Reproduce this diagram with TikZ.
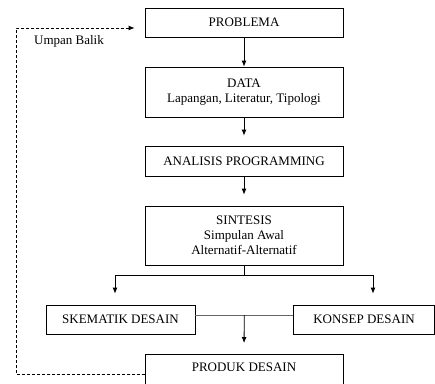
\documentclass[tikz,border=0pt]{standalone}
\usepackage{fontspec}
\setmainfont{Liberation Serif}
\usetikzlibrary{arrows.meta,positioning}

\begin{document}
\begin{tikzpicture}[x=1pt,y=-1pt]
\fontsize{13}{15}\selectfont
\tikzset{
  BoxStyle/.style = {draw, line width=0.8pt, align=center, inner sep=2pt,
                     minimum width=198pt},
  EdgeStyle/.style = {line width=0.8pt},
  ArrowStyle/.style = {EdgeStyle, -{Latex[length=6pt,width=5pt]}},
  FeedStyle/.style = {ArrowStyle, dash pattern=on 3pt off 2pt},
}
  \useasboundingbox (0,0) rectangle (435,383);

  % main column
  \node[BoxStyle, minimum height=29pt] (problema) at (244,22.5) {PROBLEMA};
  \node[BoxStyle, minimum height=50pt] (data) at (244,92)
       {DATA\\Lapangan, Literatur, Tipologi};
  \node[BoxStyle, minimum height=30pt] (analisis) at (244,161)
       {ANALISIS PROGRAMMING};
  \node[BoxStyle, minimum height=59pt] (sintesis) at (244,235.5)
       {SINTESIS\\Simpulan Awal\\Alternatif-Alternatif};

  % two branches
  \node[BoxStyle, minimum width=149pt, minimum height=29pt] (skematik)
       at (120.5,319.5) {SKEMATIK DESAIN};
  \node[BoxStyle, minimum width=141pt, minimum height=29pt] (konsep)
       at (364,319.5) {KONSEP DESAIN};
  \node[BoxStyle, minimum height=34pt, text height=9pt, text depth=8pt,
        anchor=north] (produk) at (244,354) {PRODUK DESAIN};

  \coordinate (split) at (244,275);

  \draw[ArrowStyle] (problema) -- (data);
  \draw[ArrowStyle, shorten >=10pt] (data) -- (analisis);
  \draw[ArrowStyle, shorten >=11pt] (analisis) -- (sintesis);

  \draw[EdgeStyle] (sintesis.south) -- (split);
  \draw[ArrowStyle, shorten >=11pt] (split) -| ([xshift=-5.5pt]skematik.north);
  \draw[ArrowStyle, shorten >=11pt] (split) -| ([xshift=9pt]konsep.north);

  \draw[EdgeStyle, black!60] ([yshift=4.5pt]skematik.east)
       -- ([yshift=4.5pt]konsep.west) coordinate[midway] (join);
  \draw[ArrowStyle, shorten >=11pt] (join) -- (produk.north);

  % feedback
  \coordinate (corner) at (16,28);
  \draw[FeedStyle] ([yshift=-3pt]produk.west) -| (corner)
       -- ([xshift=-10pt,yshift=-5.5pt]problema.west);
  \node (umpan) at (69,41) {Umpan Balik};

\end{tikzpicture}
\end{document}
